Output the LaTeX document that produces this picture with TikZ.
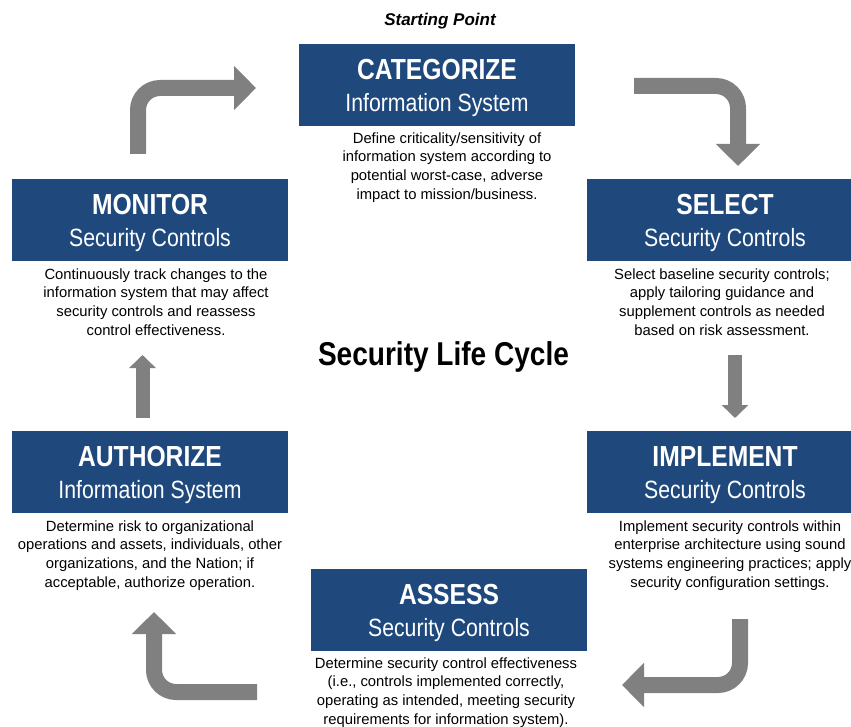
\documentclass[tikz,border=0pt]{standalone}
\usepackage{fontspec}
\setmainfont{Liberation Sans}
\newfontfamily\boxfont[FakeStretch=0.85]{Liberation Sans}
\usetikzlibrary{arrows.meta}
\definecolor{stageblue}{RGB}{31,73,125}
\definecolor{arrowgray}{RGB}{128,128,128}
\newcommand\stagetext[2]{\rule{0pt}{27pt}{\fontsize{29}{32}\selectfont\bfseries #1}\\#2}
\tikzset{
  stagebox/.style={fill=stageblue, text=white, minimum width=276pt, minimum height=82pt,
    inner sep=0pt, align=center, font=\boxfont\fontsize{25}{32}\selectfont},
  stagedesc/.style={anchor=north, inner sep=0pt, align=center, font=\fontsize{14.8}{18.8}\selectfont},
  bigarrow/.style={draw=arrowgray, line width=16pt, rounded corners=22pt,
    -{Triangle[length=22pt,width=43pt]}},
  smallarrow/.style={draw=arrowgray, line width=14pt, -{Triangle[length=13pt,width=26pt]}}
}
\begin{document}
\begin{tikzpicture}[x=1pt, y=-1pt, line join=round]
\useasboundingbox (0,0) rectangle (851,727);
\clip (0,0) rectangle (851,727);
% stages
\node[stagebox] (cat) at (437,85) {\stagetext{CATEGORIZE}{Information System}};
\node[stagebox] (sel) at (725,220) {\stagetext{SELECT}{Security Controls}};
\node[stagebox] (imp) at (725,472) {\stagetext{IMPLEMENT}{Security Controls}};
\node[stagebox] (ass) at (449,610) {\stagetext{ASSESS}{Security Controls}};
\node[stagebox] (aut) at (150,472) {\stagetext{AUTHORIZE}{Information System}};
\node[stagebox] (mon) at (150,220) {\stagetext{MONITOR}{Security Controls}};
% descriptions
\node[stagedesc] (catd) at ([xshift=10pt,yshift=-6pt]cat.south)
  {Define criticality/sensitivity of\\information system according to\\potential worst-case, adverse\\impact to mission/business.};
\node[stagedesc] (seld) at ([xshift=-3pt,yshift=-7pt]sel.south)
  {Select baseline security controls;\\apply tailoring guidance and\\supplement controls as needed\\based on risk assessment.};
\node[stagedesc] (impd) at ([xshift=5pt,yshift=-7pt]imp.south)
  {Implement security controls within\\enterprise architecture using sound\\systems engineering practices; apply\\security configuration settings.};
\node[stagedesc] (assd) at ([xshift=-3pt,yshift=-6pt]ass.south)
  {Determine security control effectiveness\\(i.e., controls implemented correctly,\\operating as intended, meeting security\\requirements for information system).};
\node[stagedesc] (autd) at ([yshift=-7pt]aut.south)
  {Determine risk to organizational\\operations and assets, individuals, other\\organizations, and the Nation; if\\acceptable, authorize operation.};
\node[stagedesc] (mond) at ([xshift=6pt,yshift=-7pt]mon.south)
  {Continuously track changes to the\\information system that may affect\\security controls and reassess\\control effectiveness.};
% labels
\node[anchor=base, font=\fontsize{17}{20}\selectfont\bfseries\itshape] (start) at (440,26) {Starting Point};
\node[anchor=base, font=\boxfont\fontsize{33}{38}\selectfont\bfseries] (life) at (443.5,365) {Security Life Cycle};
% arrows
\coordinate (a1) at (138,154); \coordinate (a2) at (256,88);
\coordinate (b1) at (634,86);  \coordinate (b2) at (738,166);
\coordinate (c1) at (735,355); \coordinate (c2) at (735,418);
\coordinate (d1) at (740,619); \coordinate (d2) at (622,685);
\coordinate (e1) at (257,692); \coordinate (e2) at (154,612);
\coordinate (f1) at (142.5,418); \coordinate (f2) at (142.5,355);
\draw[bigarrow] (a1) |- (a2);
\draw[bigarrow] (b1) -| (b2);
\draw[smallarrow] (c1) -- (c2);
\draw[bigarrow] (d1) |- (d2);
\draw[bigarrow] (e1) -| (e2);
\draw[smallarrow] (f1) -- (f2);
\end{tikzpicture}
\end{document}
